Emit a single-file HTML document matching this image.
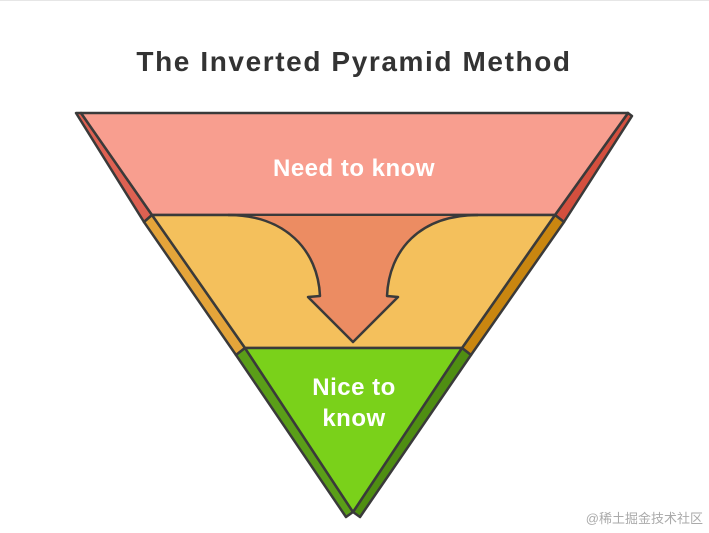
<!DOCTYPE html>
<html><head><style>
html,body{margin:0;padding:0;background:#fff;}
body{width:709px;height:533px;overflow:hidden;position:relative;font-family:"Liberation Sans",sans-serif;}
</style></head><body>
<div style="position:absolute;left:0;top:0;width:709px;height:1px;background:#e6e6e6"></div>
<svg width="709" height="533" style="position:absolute;left:0;top:0">
<text x="354" y="71" text-anchor="middle" font-family="Liberation Sans, sans-serif" font-weight="bold" font-size="28" fill="#333" letter-spacing="1.6">The Inverted Pyramid Method</text>
<g stroke="#3a3a3a" stroke-width="2.5" stroke-linejoin="round">
<polygon points="76,113 81,113 152,215 144,222" fill="#de6152"/>
<polygon points="144,222 152,215 245,348 236,355" fill="#e4a43a"/>
<polygon points="236,355 245,348 353,512 346,517" fill="#5a9e18"/>
<polygon points="628,113 632,116 564,222 555,215" fill="#d44f3e"/>
<polygon points="555,215 564,222 471,355 462,348" fill="#c98610"/>
<polygon points="462,348 471,355 360,517 353,512" fill="#4f8e12"/>
<polygon points="81,113 628,113 555,215 152,215" fill="#f89e8f"/>
<polygon points="152,215 555,215 462,348 245,348" fill="#f4c05c"/>
<path d="M228,216 C285,216 318,250 320,296 L308,297 L353,342 L398,297 L387,296 C389,250 420,216 478,216 Z" fill="#ec8c62" stroke="none"/>
<path d="M228,215 C285,215 318,250 320,296 L308,297 L353,342 L398,297 L387,296 C389,250 420,215 478,215" fill="none"/>
<polygon points="245,348 462,348 353,512" fill="#7ad11a"/>
</g>
<text x="354" y="176" text-anchor="middle" font-weight="bold" font-size="24" fill="#fff" letter-spacing="0.5">Need to know</text>
<text x="354" y="395" text-anchor="middle" font-weight="bold" font-size="24" fill="#fff" letter-spacing="0.5">Nice to</text>
<text x="354" y="426" text-anchor="middle" font-weight="bold" font-size="24" fill="#fff" letter-spacing="0.5">know</text>
<text x="703" y="523" text-anchor="end" font-family="Liberation Sans, Noto Sans CJK SC, sans-serif" font-size="13" fill="#aaa">@稀土掘金技术社区</text>
</svg>
</body></html>
